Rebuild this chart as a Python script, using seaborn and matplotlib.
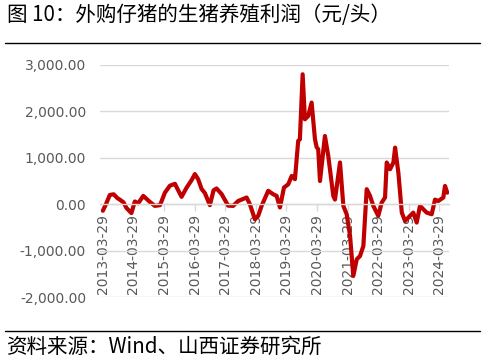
import matplotlib
matplotlib.use("Agg")
import matplotlib.pyplot as plt
import matplotlib.dates as mdates
from matplotlib.lines import Line2D
from matplotlib.ticker import FuncFormatter
import seaborn as sns
import pandas as pd

dates = [
    "2013-03-29", "2013-05-05", "2013-06-20", "2013-08-05", "2013-09-20", "2013-10-25",
    "2013-12-01", "2014-01-05", "2014-03-05", "2014-04-15", "2014-05-25", "2014-07-25",
    "2014-10-12", "2014-12-10", "2015-02-10", "2015-04-09", "2015-06-08", "2015-08-07",
    "2015-09-15", "2015-10-25", "2015-12-25", "2016-02-22", "2016-04-01", "2016-05-10",
    "2016-06-20", "2016-07-30", "2016-09-27", "2016-11-10", "2016-12-16", "2017-02-14",
    "2017-05-03", "2017-07-02", "2017-08-31", "2017-12-10", "2018-01-18", "2018-03-19",
    "2018-04-27", "2018-06-07", "2018-08-25", "2018-10-24", "2018-12-03", "2019-01-12",
    "2019-03-01", "2019-04-21", "2019-06-01", "2019-07-10", "2019-08-18", "2019-09-07",
    "2019-10-10", "2019-11-06", "2019-12-15", "2020-01-25", "2020-03-05", "2020-03-25",
    "2020-04-13", "2020-05-04", "2020-07-02", "2020-08-11", "2020-10-10", "2020-10-30",
    "2020-12-29", "2021-02-07", "2021-03-19", "2021-04-28", "2021-06-06", "2021-07-17",
    "2021-08-25", "2021-10-04", "2021-11-13", "2021-12-23", "2022-01-31", "2022-03-31",
    "2022-05-11", "2022-06-20", "2022-07-10", "2022-08-19", "2022-09-28", "2022-10-18",
    "2022-11-26", "2023-01-06", "2023-02-14", "2023-04-14", "2023-05-23", "2023-07-03",
    "2023-08-11", "2023-10-30", "2023-12-29", "2024-02-07", "2024-03-17", "2024-05-16",
    "2024-06-05", "2024-07-02",
]
profit = [
    -140, 0, 200, 215, 130, 90,
    40, -80, -190, 60, 20, 180,
    50, -35, -20, 250, 400, 440,
    300, 160, 360, 520, 650, 540,
    330, 240, -20, 300, 340, 220,
    -30, -35, 70, 145, 0, -325,
    -250, -35, 290, 215, 180, -70,
    360, 430, 610, 540, 1365, 1400,
    2800, 1830, 1900, 2190, 1400, 1230,
    1185, 500, 1470, 1040, 180, 100,
    900, -35, -215, -680, -1545, -1185,
    -1115, -900, 325, 180, -35, -250,
    35, 145, 900, 755, 900, 1220,
    680, -180, -360, -250, -180, -395,
    -35, -180, -215, 100, 70, 145,
    395, 250,
]
yticks = [-2000, -1000, 0, 1000, 2000, 3000]
xtick_dates = [f"{y}-03-29" for y in range(2013, 2025)]

title = "图 10：外购仔猪的生猪养殖利润（元/头）"
source = "资料来源：Wind、山西证券研究所"

df = pd.DataFrame({"date": pd.to_datetime(dates), "profit": profit})

sns.set_theme(style="white")
plt.rcParams["font.family"] = ["DejaVu Sans", "Noto Sans CJK SC"]

fig = plt.figure(figsize=(4.85, 3.61), dpi=100)
ax = fig.add_axes([0.206, 0.177, 0.72, 0.643])

sns.lineplot(data=df, x="date", y="profit", ax=ax, color="#C00000", linewidth=3.0)

ax.set_ylim(-2000, 3000)
ax.set_xlim(pd.Timestamp("2013-02-22"), pd.Timestamp("2024-07-24"))
ax.set_yticks(yticks)
ax.yaxis.set_major_formatter(FuncFormatter(lambda v, p: f"{v:,.2f}"))
ax.set_xticks(pd.to_datetime(xtick_dates))
ax.xaxis.set_major_formatter(mdates.DateFormatter("%Y-%m-%d"))
ax.set_xlabel("")
ax.set_ylabel("")
ax.grid(axis="y", color="#D9D9D9", linewidth=1)
ax.set_axisbelow(True)
for s in ["top", "right", "left"]:
    ax.spines[s].set_visible(False)
ax.spines["bottom"].set_position(("data", 0))
ax.spines["bottom"].set_color("#D9D9D9")
ax.spines["bottom"].set_linewidth(1)
ax.tick_params(axis="x", direction="out", length=5, color="#D9D9D9", width=1,
               labelrotation=90, labelsize=10, labelcolor="#595959", pad=2, bottom=True)
ax.tick_params(axis="y", length=0, labelsize=10, labelcolor="#595959", pad=10)

fig.text(0.014, 0.958, title, fontsize=14.8, va="center", ha="left",
         family=["Noto Sans CJK SC", "DejaVu Sans"], color="black")
fig.text(0.014, 0.04, source, fontsize=14.8, va="center", ha="left",
         family=["Noto Sans CJK SC", "DejaVu Sans"], color="black")
fig.add_artist(Line2D([0.01, 0.99], [1 - 43 / 361, 1 - 43 / 361], color="black", linewidth=1))
fig.add_artist(Line2D([0.01, 0.99], [1 - 331 / 361, 1 - 331 / 361], color="black", linewidth=1))

fig.savefig("out.png", dpi=100)
